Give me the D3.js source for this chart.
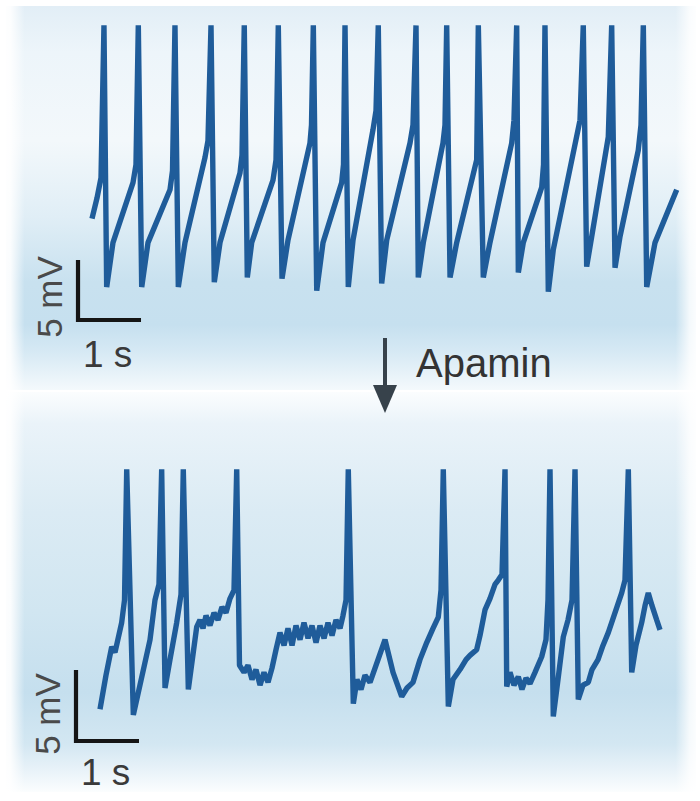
<!DOCTYPE html>
<html>
<head>
<meta charset="utf-8">
<script src="https://cdn.jsdelivr.net/npm/d3@7"></script>
<style>
  html, body { margin: 0; padding: 0; background: #ffffff; }
  svg { display: block; }
  text { font-family: "Liberation Sans", Arial, sans-serif; }
</style>
</head>
<body>
<svg id="chart" width="700" height="801"></svg>
<script>
// Membrane potential, control recording: time (s) and voltage (mV)
const controlTime = [0.000,0.079,0.143,0.190,0.233,0.333,0.651,0.698,0.735,0.789,0.889,1.238,1.278,1.317,1.370,1.476,1.794,1.841,1.889,1.941,2.032,2.349,2.381,2.417,2.465,2.535,2.873,2.921,2.957,3.016,3.111,3.460,3.484,3.513,3.567,3.667,3.963,3.992,4.016,4.068,4.143,4.460,4.508,4.544,4.598,4.678,5.048,5.095,5.143,5.179,5.259,5.571,5.603,5.630,5.683,5.789,6.106,6.132,6.211,6.317,6.662,6.698,6.741,6.767,6.846,7.138,7.167,7.190,7.243,7.322,7.746,7.798,7.852,7.932,8.195,8.249,8.302,8.381,8.671,8.714,8.751,8.805,8.937,9.281];
const controlVolt = [-56.3,-54.6,-52.9,-40.2,-62.0,-58.3,-53.3,-51.8,-40.2,-62.0,-58.3,-53.9,-52.3,-40.2,-62.0,-58.3,-51.2,-49.8,-40.2,-61.6,-58.3,-52.5,-51.0,-40.2,-61.2,-58.3,-53.1,-51.4,-40.2,-61.3,-58.1,-50.0,-48.5,-40.2,-62.3,-58.3,-53.3,-51.8,-40.2,-62.0,-58.1,-48.9,-47.3,-40.2,-61.7,-58.1,-50.0,-48.5,-40.2,-61.2,-58.3,-50.0,-48.5,-40.2,-61.2,-58.3,-51.4,-40.2,-61.2,-58.3,-50.0,-48.1,-40.2,-60.8,-58.3,-53.7,-51.8,-40.2,-62.4,-58.9,-48.1,-40.2,-60.3,-57.8,-49.5,-40.2,-60.4,-57.8,-50.6,-48.5,-40.2,-62.0,-58.3,-53.9];

// Membrane potential after apamin: time (s) and voltage (mV)
const apaminTime = [0.127,0.222,0.313,0.365,0.471,0.516,0.551,0.656,0.841,0.921,1.000,1.063,1.106,1.159,1.238,1.344,1.413,1.449,1.529,1.662,1.714,1.762,1.810,1.873,1.937,2.000,2.063,2.127,2.190,2.254,2.297,2.341,2.413,2.476,2.540,2.603,2.667,2.730,2.794,2.857,2.921,2.984,3.048,3.111,3.175,3.238,3.302,3.365,3.429,3.492,3.556,3.619,3.683,3.746,3.810,3.873,3.937,3.984,4.032,4.068,4.148,4.206,4.270,4.333,4.413,4.508,4.651,4.778,4.916,5.000,5.095,5.206,5.313,5.413,5.497,5.540,5.576,5.656,5.730,5.841,5.937,6.000,6.106,6.159,6.238,6.317,6.397,6.449,6.508,6.556,6.583,6.635,6.698,6.767,6.825,6.889,6.952,7.032,7.138,7.206,7.238,7.270,7.322,7.397,7.481,7.556,7.619,7.667,7.719,7.794,7.878,7.937,8.032,8.111,8.195,8.286,8.408,8.460,8.513,8.567,8.635,8.725,8.778,8.830,8.889,8.963,9.016];
const apaminVolt = [-61.6,-59.2,-57.2,-57.6,-55.5,-53.9,-44.7,-62.0,-58.3,-56.7,-53.9,-52.8,-44.7,-60.1,-58.1,-55.5,-53.5,-44.7,-60.2,-55.8,-55.3,-55.9,-55.0,-55.7,-54.8,-55.3,-54.4,-54.8,-53.8,-53.2,-44.7,-58.5,-59.0,-58.5,-59.5,-58.8,-59.9,-59.0,-59.7,-58.7,-57.4,-56.2,-57.1,-55.9,-57.1,-55.7,-56.7,-55.5,-56.6,-55.7,-56.9,-55.7,-56.6,-55.5,-56.4,-55.3,-55.9,-55.0,-53.9,-44.7,-61.2,-59.5,-60.2,-59.2,-59.7,-58.5,-56.7,-59.0,-60.7,-60.1,-59.7,-58.1,-56.9,-55.9,-55.1,-53.2,-44.7,-61.4,-59.5,-58.8,-58.1,-57.8,-57.4,-56.4,-54.6,-53.8,-52.8,-52.5,-52.1,-44.7,-60.0,-59.0,-59.9,-59.3,-60.2,-59.4,-59.8,-59.0,-57.9,-56.7,-53.9,-44.7,-62.1,-59.5,-56.5,-55.3,-53.9,-44.7,-60.9,-59.9,-59.7,-58.8,-58.1,-57.1,-56.2,-55.0,-53.4,-52.5,-44.7,-59.0,-57.1,-55.5,-54.3,-53.4,-54.3,-55.3,-56.0];

// Scale bar sizes and labels
const scaleBarTime = 1;      // s
const scaleBarVolt = 5;      // mV
const scaleBarLabels = ["1 s", "5 mV"];
const drugLabel = "Apamin";

const svg = d3.select("#chart");
const W = 700, H = 801;
const defs = svg.append("defs");

// Panel backgrounds: soft vertical blue washes
function vGrad(id, stops) {
  const g = defs.append("linearGradient").attr("id", id)
    .attr("x1", 0).attr("y1", 0).attr("x2", 0).attr("y2", 1);
  stops.forEach(s => g.append("stop").attr("offset", s[0]).attr("stop-color", s[1]));
}
vGrad("bgTop", [[0, "#e2eef6"], [0.12, "#edf5fa"], [0.35, "#f3f8fb"], [0.55, "#e0eef6"], [0.72, "#c8e1ef"], [0.83, "#c6e0ef"], [0.9, "#d6e9f4"], [1, "#f4f9fc"]]);
vGrad("bgBot", [[0, "#fbfdfe"], [0.08, "#eaf3f9"], [0.3, "#dbebf4"], [0.55, "#d1e6f1"], [0.75, "#c5dfee"], [0.88, "#d3e7f2"], [0.95, "#eaf3f9"], [1, "#fbfdfe"]]);

const hEdge = defs.append("linearGradient").attr("id", "edgeFade")
  .attr("x1", 0).attr("y1", 0).attr("x2", 1).attr("y2", 0);
[[0, 1], [0.015, 0.9], [0.035, 0], [0.965, 0], [0.985, 0.8], [1, 1]]
  .forEach(s => hEdge.append("stop").attr("offset", s[0]).attr("stop-color", "#ffffff").attr("stop-opacity", s[1]));

svg.append("rect").attr("width", W).attr("height", H).attr("fill", "#ffffff");
svg.append("rect").attr("x", 6).attr("y", 6).attr("width", 690).attr("height", 384).attr("fill", "url(#bgTop)");
svg.append("rect").attr("x", 6).attr("y", 392).attr("width", 690).attr("height", 400).attr("fill", "url(#bgBot)");
svg.append("rect").attr("x", 0).attr("y", 0).attr("width", W).attr("height", H).attr("fill", "url(#edgeFade)");

// Scales: shared time axis, one voltage axis per recording
const x = d3.scaleLinear().domain([0, 10]).range([92, 722]);
const yTop = d3.scaleLinear().domain([-62, -37]).range([287, -13]);
const yBot = d3.scaleLinear().domain([-62, -42]).range([715, 431]);

const traceColor = "#1f5c9a";

function drawTrace(times, volts, y) {
  const pts = times.map((t, i) => [t, volts[i]]);
  const line = d3.line().x(d => x(d[0])).y(d => y(d[1]));
  svg.append("path").datum(pts)
    .attr("d", line)
    .attr("fill", "none")
    .attr("stroke", traceColor)
    .attr("stroke-width", 5.4)
    .attr("stroke-linejoin", "bevel")
    .attr("stroke-linecap", "butt");
}
drawTrace(controlTime, controlVolt, yTop);
drawTrace(apaminTime, apaminVolt, yBot);

// L-shaped scale bars with their labels
function scaleBar(t0, v0, y, timeLabelY, voltLabelCy) {
  const px = x(t0), py = y(v0);
  const pxEnd = x(t0 + scaleBarTime), pyEnd = y(v0 + scaleBarVolt);
  svg.append("path")
    .attr("d", `M${px},${pyEnd}L${px},${py}L${pxEnd},${py}`)
    .attr("fill", "none").attr("stroke", "#151515").attr("stroke-width", 4.2)
    .attr("stroke-linejoin", "miter");
  svg.append("text")
    .attr("x", px + 5).attr("y", timeLabelY)
    .attr("font-size", 37).attr("fill", "#3a3a3a")
    .text(scaleBarLabels[0]);
  svg.append("text")
    .attr("transform", `translate(${px - 16},${voltLabelCy}) rotate(-90)`)
    .attr("text-anchor", "middle")
    .attr("font-size", 35).attr("fill", "#4a4a4a")
    .text(scaleBarLabels[1]);
}
scaleBar(-0.222, -64.75, yTop, 367, 297);
scaleBar(-0.254, -63.83, yBot, 785, 714);

// Drug application arrow
const arrowX = 385;
svg.append("line")
  .attr("x1", arrowX).attr("x2", arrowX).attr("y1", 338).attr("y2", 392)
  .attr("stroke", "#37424b").attr("stroke-width", 4);
svg.append("path")
  .attr("d", `M${arrowX - 12},385L${arrowX + 12},385L${arrowX},413Z`)
  .attr("fill", "#37424b");
svg.append("text")
  .attr("x", 416).attr("y", 377)
  .attr("font-size", 40).attr("fill", "#333333")
  .text(drugLabel);
</script>
</body>
</html>
